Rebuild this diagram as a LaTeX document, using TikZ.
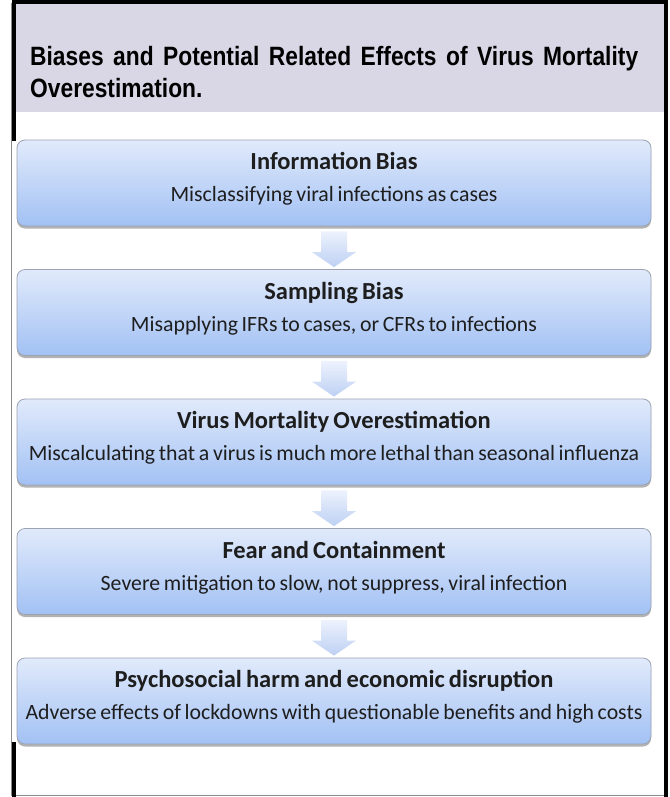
\documentclass[tikz,border=0pt]{standalone}
\usepackage{fontspec}
\setmainfont[WordSpace=0.75]{Carlito}
\newfontfamily\titlefont[FakeStretch=0.86]{Liberation Sans}
\usetikzlibrary{shadows}
\definecolor{headbg}{HTML}{D9D7E5}
\definecolor{boxtop}{HTML}{E1EAFB}
\definecolor{boxbot}{HTML}{A2C1F4}
\definecolor{boxline}{HTML}{9CA4B4}
\definecolor{arrtop}{HTML}{EDF2FD}
\definecolor{arrbot}{HTML}{BDD0F3}
\definecolor{txt}{HTML}{1E1E1E}
\definecolor{framegray}{HTML}{8A8A8A}
\tikzset{
  stepbox/.style={draw=boxline, line width=0.8pt, rounded corners=8pt,
    top color=boxtop, bottom color=boxbot, minimum width=634pt, minimum height=86pt,
    inner sep=0pt,
    drop shadow={shadow xshift=0pt, shadow yshift=-2.5pt, opacity=0.4, fill=black!75}},
  boxtitle/.style={font=\bfseries\fontsize{24.5}{26}\selectfont, text=txt, inner sep=0pt, anchor=base},
  boxsub/.style={font=\fontsize{21.8}{24}\selectfont, text=txt, inner sep=0pt, anchor=base},
  downarrow/.style={top color=arrtop, bottom color=arrbot, draw=none},
  heavy/.style={line width=3.5pt, draw=black},
  titletext/.style={anchor=base west, inner sep=0pt, font=\titlefont\bfseries\fontsize{26.5}{30}\selectfont},
}
\begin{document}
\begin{tikzpicture}[x=1pt,y=-1pt]
\useasboundingbox (0,0) rectangle (669,797);
\fill[white] (0,0) rectangle (669,797);
% header band
\fill[headbg] (14,3) rectangle (664,112);
% frame
\draw[framegray, line width=1pt] (11,3) -- (11,795) -- (665,795);
\draw[heavy] (12.5,2) -- (666,2);
\draw[heavy] (666,0.25) -- (666,797);
\draw[heavy] (14,0.25) -- (14,141);
\draw[heavy] (14,742) -- (14,797);
% title
\node[titletext] (title1) at (30,66)
  {\makebox[608pt][s]{Biases and Potential Related Effects of Virus Mortality}};
\node[titletext] (title2) at (30,98) {Overestimation.};
% boxes
\node[stepbox] (b1) at (334,183) {};
\node[stepbox] (b2) at (334,312.5) {};
\node[stepbox] (b3) at (334,442) {};
\node[stepbox] (b4) at (334,571.5) {};
\node[stepbox] (b5) at (334,701) {};
% box texts
\node[boxtitle] (t1) at ([yshift=-30pt]b1.north) {Information Bias};
\node[boxsub] (s1) at ([yshift=-62pt]b1.north) {Misclassifying viral infections as cases};
\node[boxtitle] (t2) at ([yshift=-30pt]b2.north) {Sampling Bias};
\node[boxsub] (s2) at ([yshift=-62pt]b2.north) {Misapplying IFRs to cases, or CFRs to infections};
\node[boxtitle] (t3) at ([yshift=-30pt]b3.north) {Virus Mortality Overestimation};
\node[boxsub] (s3) at ([yshift=-62pt]b3.north) {Miscalculating that a virus is much more lethal than seasonal influenza};
\node[boxtitle] (t4) at ([yshift=-30pt]b4.north) {Fear and Containment};
\node[boxsub] (s4) at ([yshift=-62pt]b4.north) {Severe mitigation to slow, not suppress, viral infection};
\node[boxtitle] (t5) at ([yshift=-30pt]b5.north) {Psychosocial harm and economic disruption};
\node[boxsub] (s5) at ([yshift=-62pt]b5.north) {Adverse effects of lockdowns with questionable benefits and high costs};
% arrows
\foreach \a/\b in {b1/b2,b2/b3,b3/b4,b4/b5}{
  \path[downarrow]
    ([xshift=-13pt,yshift=-5pt]\a.south) -- ([xshift=13pt,yshift=-5pt]\a.south)
    -- ([xshift=13pt,yshift=17pt]\b.north) -- ([xshift=22pt,yshift=17pt]\b.north)
    -- ([yshift=2pt]\b.north) -- ([xshift=-22pt,yshift=17pt]\b.north)
    -- ([xshift=-13pt,yshift=17pt]\b.north) -- cycle;
}
\end{tikzpicture}
\end{document}
